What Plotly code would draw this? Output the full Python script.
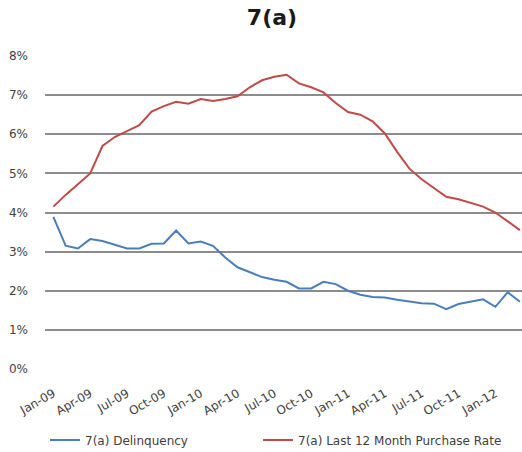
import pandas as pd
import plotly.graph_objects as go

months = [d.strftime("%b-%y") for d in pd.date_range("2009-01-01", periods=39, freq="MS")]

delinquency = [3.89, 3.15, 3.08, 3.32, 3.27, 3.18, 3.08, 3.08, 3.20, 3.21,
               3.54, 3.21, 3.26, 3.15, 2.85, 2.60, 2.48, 2.35, 2.28, 2.23,
               2.06, 2.06, 2.23, 2.17, 2.00, 1.90, 1.84, 1.83, 1.77, 1.72,
               1.68, 1.67, 1.53, 1.66, 1.72, 1.78, 1.59, 1.96, 1.72]

purchase_rate = [4.15, 4.45, 4.72, 5.00, 5.70, 5.93, 6.08, 6.23, 6.58, 6.72,
                 6.83, 6.78, 6.90, 6.85, 6.90, 6.97, 7.20, 7.38, 7.47, 7.52,
                 7.30, 7.20, 7.07, 6.80, 6.57, 6.50, 6.33, 6.02, 5.55, 5.12,
                 4.85, 4.62, 4.40, 4.34, 4.25, 4.15, 4.00, 3.78, 3.55]

y_ticks = [0, 1, 2, 3, 4, 5, 6, 7, 8]
y_tick_text = ["0%", "1%", "2%", "3%", "4%", "5%", "6%", "7%", "8%"]
x_ticks = months[0:37:3]

fig = go.Figure()
fig.add_trace(go.Scatter(x=months, y=delinquency, mode="lines",
                         name="7(a) Delinquency", legend="legend",
                         line=dict(color="#4a7ebb", width=2)))
fig.add_trace(go.Scatter(x=months, y=purchase_rate, mode="lines",
                         name="7(a) Last 12 Month Purchase Rate", legend="legend2",
                         line=dict(color="#be4b48", width=2)))

font = "DejaVu Sans, sans-serif"
txt = "#404040"
legend_common = dict(orientation="h", xref="container", yref="container",
                     xanchor="left", y=1 - 440 / 452, yanchor="middle",
                     font=dict(size=12, color=txt), bgcolor="rgba(0,0,0,0)")
fig.update_layout(
    width=522, height=452,
    margin=dict(l=45, r=0, t=56, b=83, autoexpand=False),
    paper_bgcolor="white", plot_bgcolor="white",
    title=dict(text="<b>7(a)</b>", x=0.521, xanchor="center", y=0.962, yanchor="middle",
               font=dict(family=font, size=22, color="#1a1a1a")),
    font=dict(family=font, size=12, color=txt),
    showlegend=True,
    legend=dict(x=45 / 522, **legend_common),
    legend2=dict(x=258 / 522, **legend_common),
    xaxis=dict(type="category", range=[-0.68, 38.17], tickmode="array",
               tickvals=x_ticks, ticktext=x_ticks, tickangle=-30,
               showgrid=False, zeroline=False, showline=False,
               ticks="outside", ticklen=12, tickcolor="rgba(0,0,0,0)",
               tickfont=dict(size=12, color=txt)),
    yaxis=dict(range=[0, 8], tickmode="array", tickvals=y_ticks, ticktext=y_tick_text,
               showgrid=True, gridcolor="#8c8c8c", gridwidth=1.5, zeroline=False,
               showline=False, ticks="", ticklabelstandoff=16,
               tickfont=dict(size=12, color=txt)),
)
fig.write_html("out.html", config={"displayModeBar": False},
               post_script="document.body.style.margin='0';")
